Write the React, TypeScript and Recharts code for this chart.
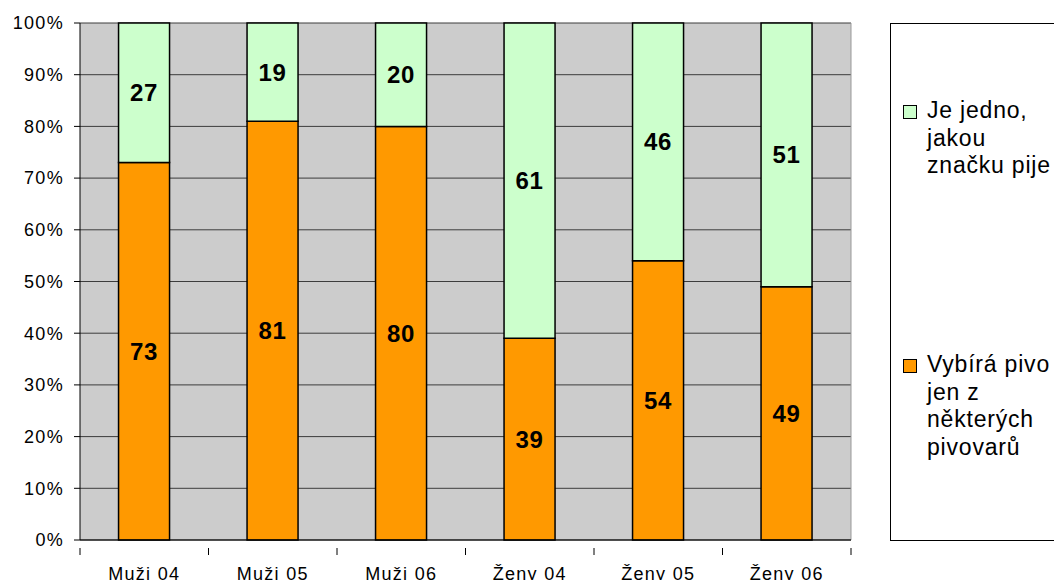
import { BarChart, Bar, XAxis, YAxis, CartesianGrid, LabelList } from "recharts"

const categories = ["Muži 04", "Muži 05", "Muži 06", "Ženy 04", "Ženy 05", "Ženy 06"]
const selective = [73, 81, 80, 39, 54, 49]
const anyBrand = [27, 19, 20, 61, 46, 51]
const yTicks = [0, 10, 20, 30, 40, 50, 60, 70, 80, 90, 100]

const seriesNames = {
  anyBrand: ["Je jedno,", "jakou", "značku pije"],
  selective: ["Vybírá pivo", "jen z", "některých", "pivovarů"],
}

const COLORS = {
  selective: "#ff9900",
  anyBrand: "#ccffcc",
  plot: "#cccccc",
  grid: "#3c3c3c",
}

const FONT = "'Liberation Sans', Arial, sans-serif"

const W = 1054
const H = 580
const MARGIN = { top: 23, right: 203, bottom: 0, left: 8 }
const Y_AXIS_W = 72
const PLOT_W = W - MARGIN.left - Y_AXIS_W - MARGIN.right
const STEP = PLOT_W / categories.length

const data = categories.map((name, i) => ({
  name,
  selective: selective[i],
  anyBrand: anyBrand[i],
}))

// category label plus the boundary tick marks Excel puts between categories
function CategoryTick(props: any) {
  const { x, y, payload, index } = props
  const left = x - STEP / 2
  const right = x + STEP / 2
  return (
    <g>
      <line x1={left} x2={left} y1={y} y2={y + 7} stroke="#000" />
      {index === categories.length - 1 && (
        <line x1={right} x2={right} y1={y} y2={y + 7} stroke="#000" />
      )}
      <text
        x={x}
        y={y + 32}
        textAnchor="middle"
        fontSize={18}
        letterSpacing={1.3}
        fontFamily={FONT}
        fill="#000"
      >
        {payload.value}
      </text>
    </g>
  )
}

function LegendBox() {
  const items = [
    { color: COLORS.anyBrand, lines: seriesNames.anyBrand, top: 96 },
    { color: COLORS.selective, lines: seriesNames.selective, top: 350 },
  ]
  return (
    <div
      style={{
        position: "absolute",
        left: 890,
        top: 23,
        width: 200,
        height: 518,
        border: "1px solid #000",
        boxSizing: "border-box",
        background: "#fff",
        fontFamily: FONT,
        fontSize: 23,
        letterSpacing: 0.8,
        color: "#000",
      }}
    >
      {items.map((it) => (
        <div key={it.lines[0]} style={{ position: "absolute", left: 12, top: it.top - 23 }}>
          <div
            style={{
              position: "absolute",
              left: 0,
              top: 8,
              width: 12,
              height: 12,
              background: it.color,
              border: "1px solid #000",
            }}
          />
          <div style={{ position: "absolute", left: 24, top: 0, lineHeight: "27.5px", whiteSpace: "nowrap" }}>
            {it.lines.map((l) => (
              <div key={l}>{l}</div>
            ))}
          </div>
        </div>
      ))}
    </div>
  )
}

export default function App() {
  return (
    <div style={{ position: "absolute", left: 0, top: 0, width: W, height: H, background: "#fff", overflow: "hidden" }}>
      <BarChart width={W} height={H} data={data} margin={MARGIN} barCategoryGap="30%">
        <CartesianGrid fill={COLORS.plot} stroke={COLORS.grid} vertical={false} />
        <CartesianGrid
          horizontal={false}
          stroke="#999"
          verticalPoints={[MARGIN.left + Y_AXIS_W + PLOT_W]}
        />
        <XAxis
          dataKey="name"
          height={40}
          tickLine={false}
          axisLine={{ stroke: "#000" }}
          tick={<CategoryTick />}
          interval={0}
        />
        <YAxis
          width={Y_AXIS_W}
          domain={[0, 100]}
          ticks={yTicks}
          tickFormatter={(v: number) => `${v}%`}
          axisLine={{ stroke: "#000" }}
          tickLine={{ stroke: "#000" }}
          tickSize={6}
          tickMargin={10}
          tick={{ fontSize: 18, fontFamily: FONT, fill: "#000", letterSpacing: 1.3 }}
        />
        <Bar dataKey="selective" stackId="a" fill={COLORS.selective} stroke="#000" strokeWidth={1.5} isAnimationActive={false}>
          <LabelList
            dataKey="selective"
            position="center"
            fill="#000"
            fontSize={24}
            fontWeight="bold"
            fontFamily={FONT}
            letterSpacing={0.8}
          />
        </Bar>
        <Bar dataKey="anyBrand" stackId="a" fill={COLORS.anyBrand} stroke="#000" strokeWidth={1.5} isAnimationActive={false}>
          <LabelList
            dataKey="anyBrand"
            position="center"
            fill="#000"
            fontSize={24}
            fontWeight="bold"
            fontFamily={FONT}
            letterSpacing={0.8}
          />
        </Bar>
      </BarChart>
      <LegendBox />
    </div>
  )
}
